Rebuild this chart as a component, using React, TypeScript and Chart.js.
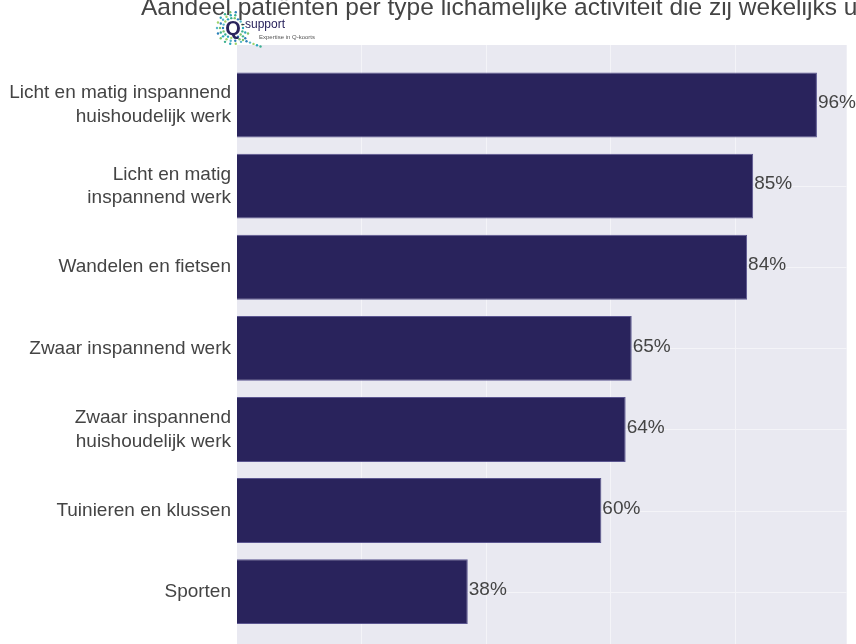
import React, { useEffect, useRef } from "react";
import { Chart, registerables } from "chart.js";

Chart.register(...registerables);

const categories: (string | string[])[] = [
  ["Licht en matig inspannend", "huishoudelijk werk"],
  ["Licht en matig", "inspannend werk"],
  "Wandelen en fietsen",
  "Zwaar inspannend werk",
  ["Zwaar inspannend", "huishoudelijk werk"],
  "Tuinieren en klussen",
  "Sporten",
];
const values = [95.5, 85, 84, 65, 64, 60, 38];
const valueLabels = ["96%", "85%", "84%", "65%", "64%", "60%", "38%"];
const gridTicks = [20.5, 41, 61.5, 82];
const titleText =
  "Aandeel patiënten per type lichamelijke activiteit die zij wekelijks uitvoeren";
const logoText = "Q-support";
const logoTagline = "Expertise in Q-koorts";

const FONT = "'Liberation Sans', Arial, sans-serif";

const decorPlugin = {
  id: "decor",
  beforeDraw(chart: any) {
    const { ctx, chartArea, scales } = chart;
    const x = scales.x;
    const y = scales.y;
    ctx.save();
    ctx.fillStyle = "#e9e9f1";
    ctx.fillRect(chartArea.left, 45, chartArea.right - chartArea.left, chart.height - 45);
    ctx.strokeStyle = "#f4f4f8";
    ctx.lineWidth = 1;
    gridTicks.forEach((t) => {
      const px = Math.round(x.getPixelForValue(t)) + 0.5;
      ctx.beginPath();
      ctx.moveTo(px, 45);
      ctx.lineTo(px, chart.height);
      ctx.stroke();
    });
    categories.forEach((_, i) => {
      const py = Math.round(y.getPixelForValue(i)) + 0.5;
      ctx.beginPath();
      ctx.moveTo(chartArea.left, py);
      ctx.lineTo(chartArea.right, py);
      ctx.stroke();
    });
    ctx.restore();
  },
  afterDraw(chart: any) {
    const { ctx } = chart;
    ctx.save();
    // value labels
    const meta = chart.getDatasetMeta(0);
    ctx.fillStyle = "#444";
    ctx.font = `19px ${FONT}`;
    ctx.textAlign = "left";
    ctx.textBaseline = "middle";
    meta.data.forEach((bar: any, i: number) => {
      ctx.fillText(valueLabels[i], bar.x + 1, bar.y - 2);
    });
    // title
    ctx.font = `24.5px ${FONT}`;
    ctx.textBaseline = "alphabetic";
    ctx.fillStyle = "#444";
    ctx.fillText(titleText, 141, 15);
    // logo
    const cols = ["#2aa7b8", "#3cb08f", "#7cc36b", "#2b7fb8", "#55b6c9", "#9fd36b"];
    const cx = 233, cy = 28;
    let k = 0;
    for (let r = 10; r <= 16; r += 3) {
      for (let a = 0; a < 360; a += 20) {
        if (a > 290 || a < 10) { if (r > 11) continue; }
        const rad = (a * Math.PI) / 180;
        ctx.fillStyle = cols[k++ % cols.length];
        ctx.beginPath();
        ctx.arc(cx + Math.cos(rad) * r, cy + Math.sin(rad) * r, 1.2, 0, Math.PI * 2);
        ctx.fill();
      }
    }
    for (let j = 0; j < 6; j++) {
      ctx.fillStyle = cols[(j + 2) % cols.length];
      ctx.beginPath();
      ctx.arc(cx + 10 + j * 3.5, cy + 12 + j * 1.3, 1.2, 0, Math.PI * 2);
      ctx.fill();
    }
    ctx.fillStyle = "#29235c";
    ctx.font = `bold 20px ${FONT}`;
    ctx.textBaseline = "middle";
    ctx.textAlign = "center";
    ctx.fillText("Q", cx, cy + 1);
    ctx.textAlign = "left";
    ctx.font = `12px ${FONT}`;
    ctx.fillText(logoText.slice(1), cx + 8, cy - 3);
    ctx.font = `6px ${FONT}`;
    ctx.fillStyle = "#555";
    ctx.fillText(logoTagline, cx + 26, cy + 9);
    ctx.restore();
  },
};

export default function App() {
  const ref = useRef<HTMLCanvasElement | null>(null);
  useEffect(() => {
    if (!ref.current) return;
    const chart = new Chart(ref.current, {
      type: "bar",
      data: {
        labels: categories,
        datasets: [
          {
            data: values,
            backgroundColor: "#29235c",
            borderColor: "#5b5690",
            borderWidth: 1,
            barPercentage: 0.8,
            categoryPercentage: 1,
          },
        ],
      },
      options: {
        indexAxis: "y",
        animation: false,
        responsive: false,
        maintainAspectRatio: false,
        layout: { padding: { top: 64.5, right: 9.3, bottom: 11.8, left: 0 } },
        plugins: { legend: { display: false }, tooltip: { enabled: false }, title: { display: false } },
        scales: {
          x: {
            display: false,
            min: 0,
            max: 100.4,
            grid: { display: false },
            border: { display: false },
            ticks: { display: false },
          },
          y: {
            grid: { display: false, drawTicks: false },
            border: { display: false },
            ticks: {
              color: "#444",
              font: { family: FONT, size: 19, lineHeight: 1.25 },
              padding: 6,
            },
            afterFit: (s: any) => {
              s.width = 237;
              s.paddingTop = 0;
              s.paddingBottom = 0;
            },
          },
        },
      },
      plugins: [decorPlugin],
    });
    return () => chart.destroy();
  }, []);
  return (
    <div style={{ position: "fixed", left: 0, top: 0, width: 856, height: 644, background: "#fff" }}>
      <canvas ref={ref} width={856} height={644} style={{ width: 856, height: 644 }} />
    </div>
  );
}
